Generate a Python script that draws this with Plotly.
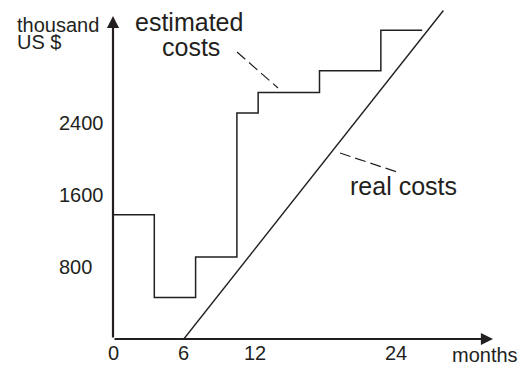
import plotly.graph_objects as go

# ---- data (thousand US $ vs months) ----
est_months = [0, 3.5, 7.0, 10.5, 12.3, 17.5, 22.7, 26.2]
est_costs = [1380, 460, 910, 2510, 2740, 2980, 3430, 3430]
real_months = [6, 28]
real_costs = [0, 3650]
x_ticks = [0, 6, 12, 24]
y_ticks = [800, 1600, 2400]

# ---- layout geometry (pixels) ----
W, H = 520, 367
L, R, T, B = 113, 493, 5, 339
PXM = 11.8   # px per month
PXY = 0.09   # px per thousand $
xmax = (R - L) / PXM
ymax = (B - T) / PXY
plot_w, plot_h = R - L, B - T

def px(x):
    return (x - L) / plot_w

def py(y):
    return (B - y) / plot_h

INK = "#231f20"
FONT = "Liberation Sans, Arial, sans-serif"

fig = go.Figure()
fig.add_trace(go.Scatter(x=est_months, y=est_costs, mode="lines",
                         line=dict(shape="hv", color=INK, width=1.5),
                         showlegend=False, hoverinfo="skip"))
fig.add_trace(go.Scatter(x=real_months, y=real_costs, mode="lines",
                         line=dict(color=INK, width=1.4),
                         showlegend=False, hoverinfo="skip"))

ann = []
# axes with arrows
ann.append(dict(x=xmax, y=0, ax=0, ay=0, xref="x", yref="y", axref="x", ayref="y",
                showarrow=True, arrowhead=2, arrowwidth=2.2, arrowsize=1.1,
                arrowcolor=INK, text=""))
y_tip = (B - 16) / PXY
ann.append(dict(x=0, y=y_tip, ax=0, ay=0, xref="x", yref="y", axref="x", ayref="y",
                showarrow=True, arrowhead=2, arrowwidth=2.2, arrowsize=1.1,
                arrowcolor=INK, text=""))

f20 = dict(family=FONT, size=20, color=INK)
f25 = dict(family=FONT, size=25, color=INK)
for v in y_ticks:
    ann.append(dict(x=px(57), y=v, xref="paper", yref="y", text=str(v),
                    xanchor="left", yanchor="middle", showarrow=False, font=f20))
for v in x_ticks:
    ann.append(dict(x=v, y=py(353), xref="x", yref="paper", text=str(v),
                    xanchor="center", yanchor="middle", showarrow=False, font=f20))
ann.append(dict(x=px(450), y=py(355), xref="paper", yref="paper", text="months",
                xanchor="left", yanchor="middle", showarrow=False, font=f20))
ann.append(dict(x=px(15), y=py(25), xref="paper", yref="paper", text="thousand",
                xanchor="left", yanchor="middle", showarrow=False, font=f20))
ann.append(dict(x=px(15), y=py(42), xref="paper", yref="paper", text="US $",
                xanchor="left", yanchor="middle", showarrow=False, font=f20))
ann.append(dict(x=px(189), y=py(22), xref="paper", yref="paper", text="estimated",
                xanchor="center", yanchor="middle", showarrow=False, font=f25))
ann.append(dict(x=px(191), y=py(47), xref="paper", yref="paper", text="costs",
                xanchor="center", yanchor="middle", showarrow=False, font=f25))
ann.append(dict(x=px(403), y=py(186), xref="paper", yref="paper", text="real costs",
                xanchor="center", yanchor="middle", showarrow=False, font=f25))

shapes = [
    dict(type="line", xref="paper", yref="paper", x0=px(237), y0=py(52), x1=px(278), y1=py(88),
         line=dict(color=INK, width=1.2, dash="11px,5px")),
    dict(type="line", xref="paper", yref="paper", x0=px(340), y0=py(153), x1=px(400), y1=py(173),
         line=dict(color=INK, width=1.2, dash="11px,5px")),
]

fig.update_layout(
    width=W, height=H,
    margin=dict(l=L, r=W - R, t=T, b=H - B, pad=0),
    paper_bgcolor="white", plot_bgcolor="white",
    xaxis=dict(range=[0, xmax], visible=False, fixedrange=True),
    yaxis=dict(range=[0, ymax], visible=False, fixedrange=True),
    annotations=ann, shapes=shapes, showlegend=False,
)

fig.write_html("out.html", config={"displayModeBar": False},
               post_script="document.body.style.margin='0';document.body.style.overflow='hidden';")
